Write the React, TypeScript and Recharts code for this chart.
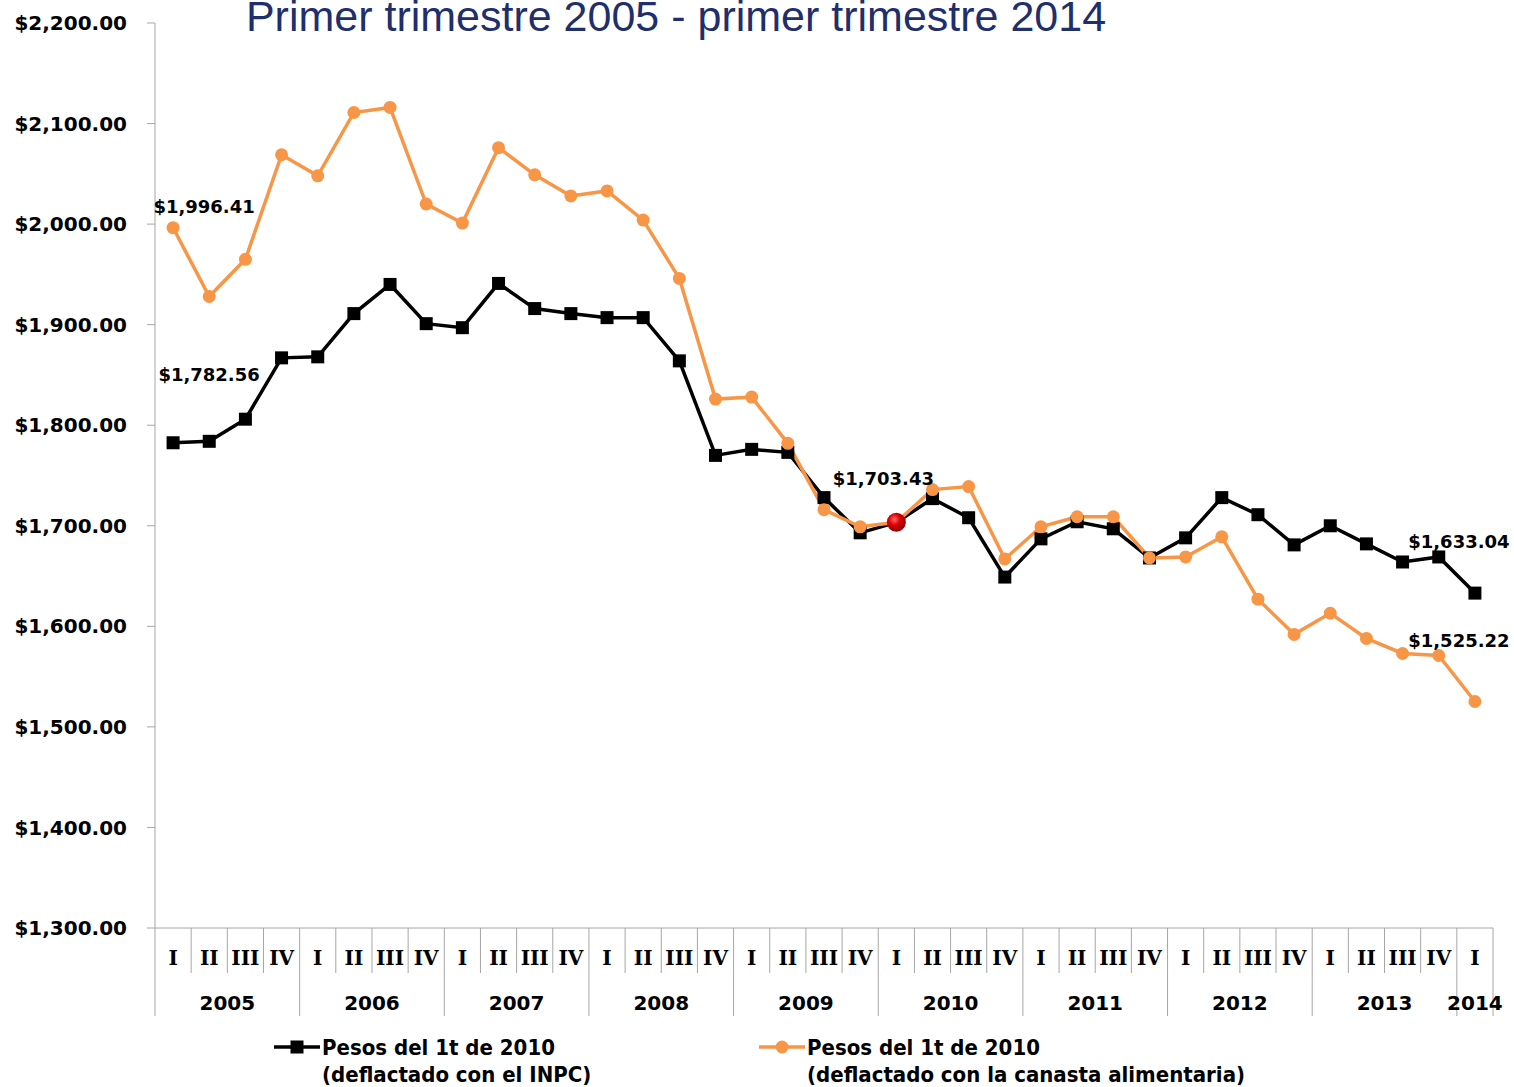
import React from 'react';
import { LineChart, Line, XAxis, YAxis, Legend, LabelList } from 'recharts';

// ---------- data ----------
const years = ['2005', '2006', '2007', '2008', '2009', '2010', '2011', '2012', '2013', '2014'];
const quarterNames = ['I', 'II', 'III', 'IV'];
const yTicks = [1300, 1400, 1500, 1600, 1700, 1800, 1900, 2000, 2100, 2200];

// Pesos del 1t de 2010 (deflactado con el INPC)
const inpcValues = [
  1782.56, 1784, 1806, 1867,
  1868, 1911, 1940, 1901,
  1897, 1941, 1916, 1911,
  1907, 1907, 1864, 1770,
  1776, 1773, 1728, 1693,
  1703.43, 1727, 1708, 1649,
  1687, 1704, 1697, 1668,
  1688, 1728, 1711, 1681,
  1700, 1682, 1664, 1669,
  1633.04,
];

// Pesos del 1t de 2010 (deflactado con la canasta alimentaria)
const canastaValues = [
  1996.41, 1928, 1965, 2069,
  2048, 2111, 2116, 2020,
  2001, 2076, 2049, 2028,
  2033, 2004, 1946, 1826,
  1828, 1782, 1716, 1699,
  1703.43, 1736, 1739, 1667,
  1699, 1709, 1709, 1668,
  1669, 1689, 1627, 1592,
  1613, 1588, 1573, 1571,
  1525.22,
];

const seriesNames = {
  inpc: ['Pesos del 1t de 2010', '(deflactado con el INPC)'],
  canasta: ['Pesos del 1t de 2010', '(deflactado con la canasta alimentaria)'],
};
const titleText = 'Primer trimestre 2005 - primer trimestre 2014';
const baseIndex = 20; // 2010 I

const categories: { key: string; year: string; q: string }[] = [];
years.forEach((y) => quarterNames.forEach((q) => categories.push({ key: `${y}-${q}`, year: y, q })));
const periods = categories.slice(0, inpcValues.length);

const data = periods.map((p, i) => ({
  key: p.key,
  year: p.year,
  q: p.q,
  inpc: inpcValues[i],
  canasta: canastaValues[i],
}));

// ---------- layout / style ----------
const W = 1514;
const H = 1087;
const PLOT_LEFT = 155;
const PLOT_RIGHT_MARGIN = 21;
const BAND = (W - PLOT_LEFT - PLOT_RIGHT_MARGIN) / data.length;
const GREY = '#a6a6a6';
const ORANGE = '#f79646';
const SANS = '"DejaVu Sans", Verdana, sans-serif';
const COND = '"DejaVu Sans Condensed", "DejaVu Sans", sans-serif';

const money = (v: number) =>
  '$' + v.toLocaleString('en-US', { minimumFractionDigits: 2, maximumFractionDigits: 2 });

const XTick = (props: any) => {
  const { x, y, payload, index } = props;
  const row = data[index] || data.find((d) => d.key === payload.value);
  if (!row) return null;
  const left = x - BAND / 2;
  const isYearStart = row.q === 'I';
  const isLast = index === data.length - 1;
  const yearCount = data.filter((d) => d.year === row.year).length;
  const showYear = (yearCount >= 2 && row.q === 'II') || yearCount === 1;
  const yearX = yearCount >= 2 ? x + BAND / 2 : x;
  return (
    <g>
      <line x1={left} x2={left} y1={y} y2={y + (isYearStart ? 88 : 45)} stroke={GREY} strokeWidth={1} />
      {isLast && <line x1={x + BAND / 2} x2={x + BAND / 2} y1={y} y2={y + 88} stroke={GREY} strokeWidth={1} />}
      <text x={x} y={y + 30} textAnchor="middle" dominantBaseline="central"
        fontFamily='"DejaVu Serif", serif' fontWeight="bold" fontSize={20} fill="#000">
        {row.q}
      </text>
      {showYear && (
        <text x={yearX} y={y + 75} textAnchor="middle" dominantBaseline="central"
          fontFamily={SANS} fontWeight="bold" fontSize={20} fill="#000">
          {row.year}
        </text>
      )}
    </g>
  );
};

const makeLabel = (spots: Record<number, [number, number]>) => (props: any) => {
  const { x, y, index, value } = props;
  const s = spots[index];
  if (!s) return null;
  return (
    <text x={x + s[0]} y={y + s[1]} textAnchor="middle" dominantBaseline="central"
      fontFamily={SANS} fontWeight="bold" fontSize={18} fill="#000">
      {money(Number(value))}
    </text>
  );
};

const inpcLabel = makeLabel({ 0: [36, -68], 20: [-13, -44], 36: [-16, -52] });
const canastaLabel = makeLabel({ 0: [31, -21], 36: [-16, -61] });

const SquareDot = (props: any) => {
  const { cx, cy } = props;
  if (cx == null || cy == null) return null;
  return <rect x={cx - 6.5} y={cy - 6.5} width={13} height={13} fill="#000" />;
};

const OrangeDot = (props: any) => {
  const { cx, cy, index } = props;
  if (cx == null || cy == null) return null;
  if (index === baseIndex) {
    return (
      <g>
        <defs>
          <radialGradient id="redball" cx="40%" cy="35%" r="65%">
            <stop offset="0%" stopColor="#ff6a6a" />
            <stop offset="45%" stopColor="#e00000" />
            <stop offset="100%" stopColor="#8a0000" />
          </radialGradient>
        </defs>
        <circle cx={cx} cy={cy} r={9.5} fill="url(#redball)" />
      </g>
    );
  }
  return <circle cx={cx} cy={cy} r={6.5} fill={ORANGE} />;
};

const LegendBox = () => {
  const textStyle: React.CSSProperties = {
    position: 'absolute', fontFamily: COND, fontWeight: 'bold', fontSize: 22,
    lineHeight: '27px', color: '#000', whiteSpace: 'nowrap', top: 18,
  };
  return (
    <div style={{ position: 'relative', width: W, height: 71 }}>
      <svg style={{ position: 'absolute', left: 273, top: 21 }} width={48} height={20}>
        <line x1={1} x2={47} y1={10} y2={10} stroke="#000" strokeWidth={3.5} />
        <rect x={17.5} y={3.5} width={13} height={13} fill="#000" />
      </svg>
      <div style={{ ...textStyle, left: 322 }}>
        {seriesNames.inpc[0]}<br />{seriesNames.inpc[1]}
      </div>
      <svg style={{ position: 'absolute', left: 758, top: 21 }} width={48} height={20}>
        <line x1={1} x2={47} y1={10} y2={10} stroke={ORANGE} strokeWidth={3.5} />
        <circle cx={24} cy={10} r={6.5} fill={ORANGE} />
      </svg>
      <div style={{ ...textStyle, left: 807 }}>
        {seriesNames.canasta[0]}<br />{seriesNames.canasta[1]}
      </div>
    </div>
  );
};

export default function App() {
  return (
    <div style={{ position: 'absolute', left: 0, top: 0, width: W, height: H, background: '#fff', overflow: 'hidden' }}>
      <LineChart width={W} height={H} data={data}
        margin={{ top: 23, right: PLOT_RIGHT_MARGIN, bottom: 0, left: 0 }}>
        <XAxis dataKey="key" type="category" scale="band" interval={0} height={88}
          tickLine={false} tickSize={0} tickMargin={0}
          axisLine={{ stroke: GREY, strokeWidth: 1 }} tick={<XTick />} />
        <YAxis width={155} domain={[1300, 2200]} ticks={yTicks} type="number"
          allowDataOverflow tickFormatter={money} tickSize={8} tickMargin={20}
          axisLine={{ stroke: GREY, strokeWidth: 1 }} tickLine={{ stroke: GREY, strokeWidth: 1 }}
          tick={{ fill: '#000', fontFamily: SANS, fontWeight: 'bold', fontSize: 20 }} />
        <Legend verticalAlign="bottom" content={<LegendBox />}
          wrapperStyle={{ left: 0, bottom: 0, width: W, height: 71 }} />
        <Line type="linear" dataKey="inpc" name="inpc" stroke="#000" strokeWidth={3.5}
          dot={<SquareDot />} activeDot={false} isAnimationActive={false}>
          <LabelList dataKey="inpc" content={inpcLabel} />
        </Line>
        <Line type="linear" dataKey="canasta" name="canasta" stroke={ORANGE} strokeWidth={3.5}
          dot={<OrangeDot />} activeDot={false} isAnimationActive={false}>
          <LabelList dataKey="canasta" content={canastaLabel} />
        </Line>
      </LineChart>
      <div style={{
        position: 'absolute', left: 0, width: 1352, top: 1, textAlign: 'center',
        fontFamily: '"Liberation Sans", Arial, sans-serif', fontSize: 43, lineHeight: '30px',
        color: '#1f2f6b', whiteSpace: 'nowrap',
      }}>
        {titleText}
      </div>
    </div>
  );
}
